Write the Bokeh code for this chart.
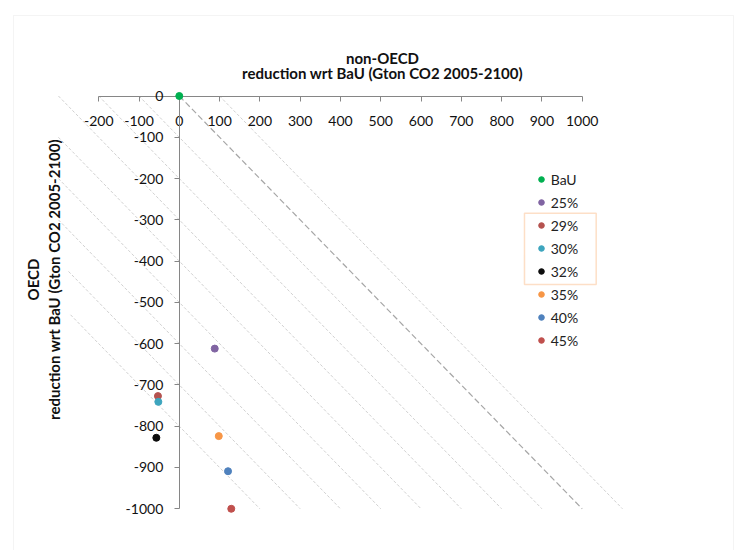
from bokeh.plotting import figure
from bokeh.models import (FixedTicker, NumeralTickFormatter, Label, BoxAnnotation,
                          Legend, LegendItem, Range1d)
from bokeh.embed import file_html
from bokeh.resources import INLINE

# ---------------- data ----------------
scenarios = ["BaU", "25%", "29%", "30%", "32%", "35%", "40%", "45%"]
non_oecd_reduction = [0, 88, -53, -52, -57, 98, 121, 129]
oecd_reduction = [0, -612, -727, -741, -828, -824, -909, -1000]
scenario_colors = ["#00B050", "#8064A2", "#B5524F", "#3DA5BE", "#0D0D0D",
                   "#F79646", "#4F81BD", "#C0504D"]

x_ticks = [-200, -100, 0, 100, 200, 300, 400, 500, 600, 700, 800, 900, 1000]
y_ticks = [0, -100, -200, -300, -400, -500, -600, -700, -800, -900, -1000]

# iso-total-reduction guide lines (x + y = const)
iso_x0 = [100, -100, -200, -300, -300, -300, -300, -275, -270]
iso_y0 = [0, 0, 0, 0, -100, -200, -300, -425, -530]
iso_x1 = [1100, 900, 800, 700, 600, 500, 400, 300, 200]
iso_y1 = [-1000, -1000, -1000, -1000, -1000, -1000, -1000, -1000, -1000]
zero_x0 = [0]
zero_y0 = [0]
zero_x1 = [1000]
zero_y1 = [-1000]

# ---------------- figure ----------------
FONT = "Lato"
AXIS_GREY = "#868686"

p = figure(width=734, height=550, output_backend="svg", toolbar_location=None,
           x_range=Range1d(-443.8, 1378.1), y_range=Range1d(-1101.1, 231.4),
           min_border=0, min_border_left=0, min_border_right=0,
           min_border_top=0, min_border_bottom=0)
p.outline_line_color = None
p.grid.visible = False
p.background_fill_color = "white"
p.border_fill_color = "white"

# chart-area border
p.add_layout(BoxAnnotation(left=-411.5, right=1375.6, top=195, bottom=-1300,
                           fill_color=None, line_color="#D9D9D9", line_width=1))

# guide lines
p.segment(x0=iso_x0, y0=iso_y0, x1=iso_x1, y1=iso_y1,
          line_color="#C4C4C4", line_width=0.8, line_dash="3 2")
p.segment(x0=zero_x0, y0=zero_y0, x1=zero_x1, y1=zero_y1,
          line_color="#A6A6A6", line_width=1.2, line_dash="6 3")

# axes crossing at the origin
xa = p.xaxis[0]
xa.fixed_location = 0
xa.bounds = (-200, 1000)
xa.ticker = FixedTicker(ticks=x_ticks)
xa.formatter = NumeralTickFormatter(format="0")
ya = p.yaxis[0]
ya.fixed_location = 0
ya.bounds = (-1000, 0)
ya.ticker = FixedTicker(ticks=y_ticks)
ya.formatter = NumeralTickFormatter(format="0")
for ax in (xa, ya):
    ax.axis_line_color = AXIS_GREY
    ax.axis_line_width = 1
    ax.major_tick_line_color = AXIS_GREY
    ax.major_tick_out = 5
    ax.major_tick_in = 0
    ax.minor_tick_out = 0
    ax.minor_tick_in = 0
    ax.major_label_text_font = FONT
    ax.major_label_text_font_size = "14px"
    ax.major_label_text_color = "#111111"
xa.major_label_standoff = 15
ya.major_label_standoff = 11

# points
items = []
for name, xv, yv, col in zip(scenarios, non_oecd_reduction, oecd_reduction, scenario_colors):
    r = p.scatter(x=[xv], y=[yv], size=7, fill_color=col, line_color=col, level="overlay")
    items.append(LegendItem(label=name, renderers=[r]))

legend = Legend(items=items, location=(533.7, 198.5), padding=0, margin=0, spacing=0,
                glyph_width=14, glyph_height=14, label_height=23, label_standoff=3,
                label_text_font=FONT, label_text_font_size="14px",
                label_text_color="#222222", border_line_color=None,
                background_fill_alpha=0)
p.add_layout(legend)

# highlight box around 29%, 30%, 32%
p.add_layout(BoxAnnotation(left=856.8, right=1034.8, top=-284, bottom=-456.7,
                           fill_color=None, line_color="#F79646", line_width=1.5))

# axis titles
for txt, yy in (("non-OECD", 92.5), ("reduction wrt BaU (Gton CO2 2005-2100)", 55)):
    p.add_layout(Label(x=504.4, y=yy, text=txt, text_align="center", text_baseline="middle",
                       text_font=FONT, text_font_style="bold", text_font_size="15px",
                       text_color="#111111"))
for txt, xx in (("OECD", -362.4), ("reduction wrt BaU (Gton CO2 2005-2100)", -311)):
    p.add_layout(Label(x=xx, y=-444.6, text=txt, angle=1.5707963, text_align="center",
                       text_baseline="middle", text_font=FONT, text_font_style="bold",
                       text_font_size="15px", text_color="#111111"))

open("out.html", "w").write(file_html(p, INLINE))
